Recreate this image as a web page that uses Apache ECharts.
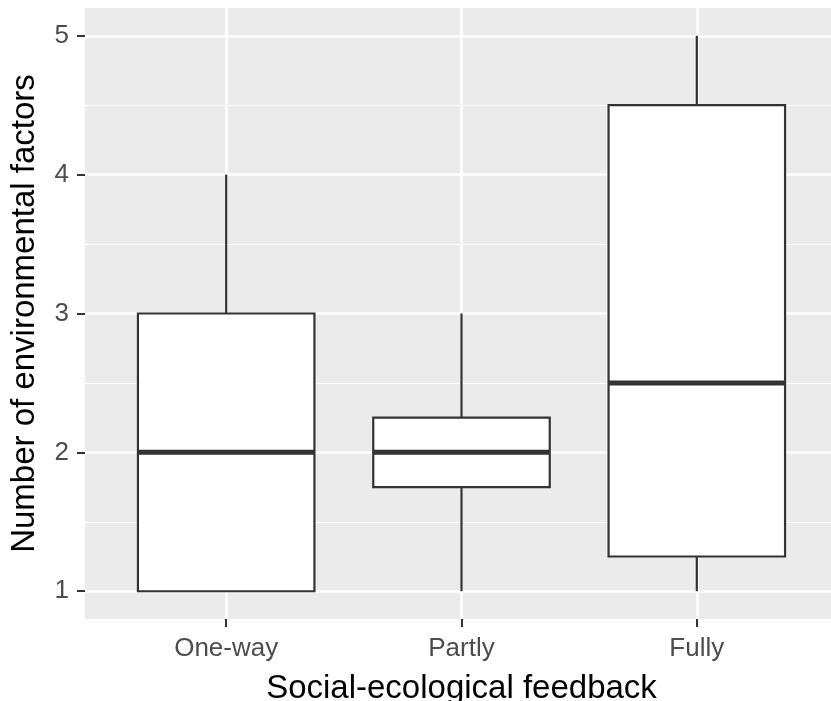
<!DOCTYPE html>
<html>
<head>
<meta charset="utf-8">
<script src="https://cdn.jsdelivr.net/npm/echarts@6/dist/echarts.min.js"></script>
<style>html,body{margin:0;padding:0;background:#fff}#c{width:831px;height:701px}</style>
</head>
<body>
<div id="c"></div>
<script>
const categories = ['One-way', 'Partly', 'Fully'];
const whiskerLow = [1, 1, 1];
const q1 = [1, 1.75, 1.25];
const medians = [2, 2, 2.5];
const q3 = [3, 2.25, 4.5];
const whiskerHigh = [4, 3, 5];
const yTicks = [1, 2, 3, 4, 5];
const yMinorTicks = [1.5, 2.5, 3.5, 4.5];
const xPositions = [1, 2, 3];

const boxData = categories.map((c, i) => [xPositions[i], whiskerLow[i], q1[i], medians[i], q3[i], whiskerHigh[i]]);

const chart = echarts.init(document.getElementById('c'));
const font = 'Liberation Sans, Arial, sans-serif';
chart.setOption({
  animation: false,
  grid: {left: 85, top: 8, right: -7, bottom: 82, show: true, backgroundColor: '#EBEBEB', borderWidth: 0,
    containLabel: false, outerBoundsMode: 'none'},
  xAxis: {
    type: 'value', min: 0.4, max: 3.6,
    name: 'Social-ecological feedback', nameLocation: 'middle', nameGap: 53,
    nameTextStyle: {fontFamily: font, fontSize: 33, color: '#000'},
    axisLine: {show: false},
    axisTick: {show: true, length: 8, customValues: xPositions, lineStyle: {color: '#333333', width: 2}},
    axisLabel: {customValues: xPositions, margin: 17, fontFamily: font, fontSize: 26, color: '#4D4D4D',
      formatter: v => categories[Math.round(v) - 1] || ''},
    splitLine: {show: true, lineStyle: {color: '#FFFFFF', width: 2.5}}
  },
  yAxis: [{
    type: 'value', min: 0.8, max: 5.2,
    name: 'Number of environmental factors', nameLocation: 'middle', nameGap: 44,
    nameTextStyle: {fontFamily: font, fontSize: 33, color: '#000'},
    axisLine: {show: false},
    axisTick: {show: true, length: 8, customValues: yTicks, lineStyle: {color: '#333333', width: 2}},
    axisLabel: {customValues: yTicks, margin: 16, fontFamily: font, fontSize: 26, color: '#4D4D4D'},
    splitLine: {show: true, lineStyle: {color: '#FFFFFF', width: 2.5}},
    z: 1
  }, {
    type: 'value', min: 0.8, max: 5.2, position: 'left',
    axisLine: {show: false},
    axisTick: {show: false, customValues: yMinorTicks},
    axisLabel: {show: false, customValues: yMinorTicks},
    splitLine: {show: true, lineStyle: {color: '#FFFFFF', width: 1.2}},
    z: 0
  }],
  series: [{
    type: 'custom',
    data: boxData,
    renderItem: function (params, api) {
      const x = api.value(0);
      const lo = api.value(1), a = api.value(2), m = api.value(3), b = api.value(4), hi = api.value(5);
      const half = api.size([0.75, 0])[0] / 2;
      const pLo = api.coord([x, lo]), pA = api.coord([x, a]), pM = api.coord([x, m]), pB = api.coord([x, b]), pHi = api.coord([x, hi]);
      const stroke = {stroke: '#333333', lineWidth: 2.2, fill: null};
      return {
        type: 'group',
        children: [
          {type: 'line', shape: {x1: pLo[0], y1: pLo[1], x2: pA[0], y2: pA[1]}, style: stroke},
          {type: 'line', shape: {x1: pB[0], y1: pB[1], x2: pHi[0], y2: pHi[1]}, style: stroke},
          {type: 'rect', shape: {x: pB[0] - half, y: pB[1], width: half * 2, height: pA[1] - pB[1]},
            style: {fill: '#FFFFFF', stroke: '#333333', lineWidth: 2.2}},
          {type: 'line', shape: {x1: pM[0] - half, y1: pM[1], x2: pM[0] + half, y2: pM[1]},
            style: {stroke: '#333333', lineWidth: 5}}
        ]
      };
    },
    z: 5
  }]
});
</script>
</body>
</html>
